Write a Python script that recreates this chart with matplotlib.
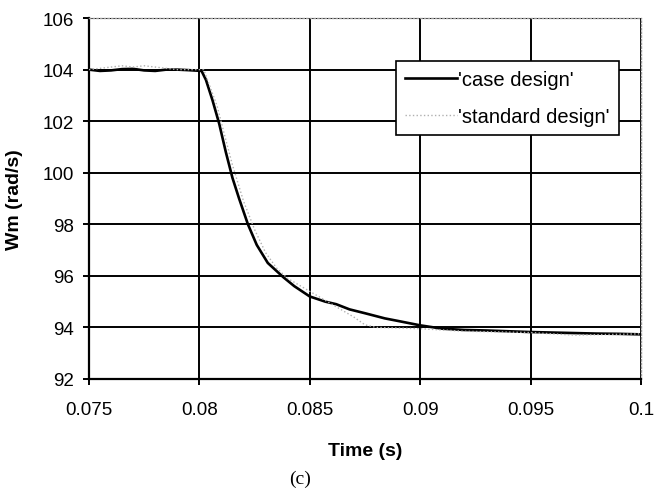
import numpy as np
import matplotlib
matplotlib.use("Agg")
import matplotlib.pyplot as plt

# Data lest av fra figuren
t_case = [0.075, 0.0755, 0.076, 0.0765, 0.077, 0.0775, 0.078, 0.0785, 0.079, 0.0795,
          0.0801, 0.0803, 0.0806, 0.0809, 0.0812, 0.0815, 0.0818, 0.0822, 0.0826, 0.0831,
          0.0838, 0.0843, 0.085, 0.0857, 0.0862, 0.0868, 0.0875, 0.0884, 0.089, 0.09,
          0.091, 0.092, 0.093, 0.094, 0.095, 0.096, 0.097, 0.098, 0.099, 0.1]
w_case = [104.0, 103.95, 103.97, 104.02, 104.03, 103.97, 103.95, 104.0, 104.0, 103.98,
          103.95, 103.6, 102.8, 101.9, 100.8, 99.8, 99.0, 98.0, 97.2, 96.5,
          95.95, 95.6, 95.2, 95.0, 94.9, 94.7, 94.55, 94.35, 94.25, 94.08,
          93.95, 93.9, 93.88, 93.85, 93.82, 93.8, 93.78, 93.76, 93.75, 93.73]

t_std = [0.075, 0.0755, 0.076, 0.0765, 0.077, 0.0775, 0.078, 0.0785, 0.079, 0.0795,
         0.0802, 0.0805, 0.0808, 0.0811, 0.0815, 0.082, 0.0825, 0.083, 0.0835, 0.084,
         0.0848, 0.0858, 0.087, 0.0875, 0.088, 0.09, 0.092, 0.095, 0.097, 0.1]
w_std = [104.0, 104.05, 104.1, 104.15, 104.1, 104.15, 104.1, 104.05, 104.0, 104.0,
         104.0, 103.3, 102.6, 101.6, 100.3, 98.9, 97.8, 96.9, 96.3, 95.9,
         95.5, 95.0, 94.4, 94.1, 94.0, 93.95, 93.85, 93.8, 93.7, 93.75]

x_ticks = [0.075, 0.08, 0.085, 0.09, 0.095, 0.1]
x_labels = ["0.075", "0.08", "0.085", "0.09", "0.095", "0.1"]
y_ticks = [92, 94, 96, 98, 100, 102, 104, 106]

plt.rcParams["font.family"] = ["Liberation Sans", "DejaVu Sans"]

fig = plt.figure(figsize=(6.54, 4.89), dpi=100)
ax = fig.add_axes([0.136, 0.223, 0.844, 0.738])

ax.plot(t_case, w_case, color="black", lw=1.9, label="'case design'", zorder=3)
ax.plot(t_std, w_std, color="#b0b0b0", lw=1.0, ls=":", label="'standard design'", zorder=4)

ax.set_xlim(0.075, 0.1)
ax.set_ylim(92, 106)
ax.set_xticks(x_ticks)
ax.set_xticklabels(x_labels)
ax.set_yticks(y_ticks)
ax.grid(True, color="black", lw=1.4)
ax.set_axisbelow(True)
ax.tick_params(direction="out", length=4, width=1.4, labelsize=13.5, colors="black")
ax.tick_params(axis="x", pad=12)
ax.tick_params(axis="y", pad=7)

for side in ["top", "right"]:
    ax.spines[side].set_color("#999999")
    ax.spines[side].set_linestyle(":")
    ax.spines[side].set_linewidth(1.0)
for side in ["left", "bottom"]:
    ax.spines[side].set_linewidth(1.6)

leg = ax.legend(loc="upper left", bbox_to_anchor=(0.556, 0.88), fancybox=False,
                edgecolor="black", framealpha=1, fontsize=14.5, handlelength=2.6,
                handletextpad=0.05, borderpad=0.45, labelspacing=0.85, borderaxespad=0)
leg.get_frame().set_linewidth(1.2)

ax.text(0.5, -0.197, "Time (s)", transform=ax.transAxes, fontsize=14,
        fontweight="bold", ha="center", va="center")
ax.text(-0.134, 0.5, "Wm (rad/s)", transform=ax.transAxes, fontsize=14,
        fontweight="bold", ha="center", va="center", rotation=90)
fig.text(0.459, 0.01, "(c)", fontsize=14, family="Liberation Serif", ha="center")

fig.savefig("out.png", dpi=100)
